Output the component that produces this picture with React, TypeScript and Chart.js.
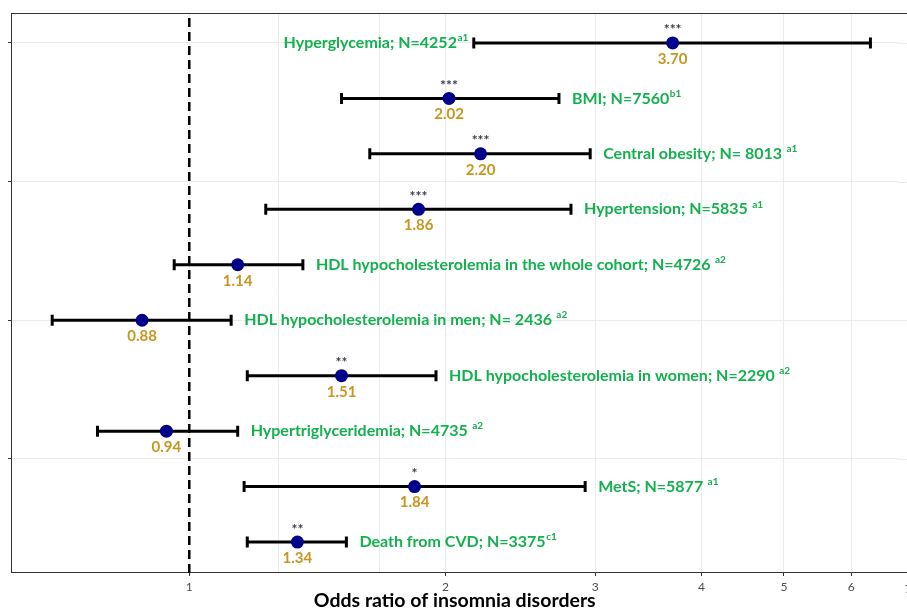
import React, { useEffect, useRef } from 'react';
import { Chart, registerables } from 'chart.js';

Chart.register(...registerables);

// ---- data ----
const categories = [
  'Hyperglycemia; N=4252',
  'BMI; N=7560',
  'Central obesity; N= 8013 ',
  'Hypertension; N=5835 ',
  'HDL hypocholesterolemia in the whole cohort; N=4726 ',
  'HDL hypocholesterolemia in men; N= 2436 ',
  'HDL hypocholesterolemia in women; N=2290 ',
  'Hypertriglyceridemia; N=4735 ',
  'MetS; N=5877 ',
  'Death from CVD; N=3375',
];
const superscripts = ['a1', 'b1', 'a1', 'a1', 'a2', 'a2', 'a2', 'a2', 'a1', 'c1'];
const oddsRatios = [3.7, 2.02, 2.2, 1.86, 1.14, 0.88, 1.51, 0.94, 1.84, 1.34];
const lowerCI = [2.16, 1.51, 1.63, 1.23, 0.96, 0.69, 1.17, 0.78, 1.16, 1.17];
const upperCI = [6.32, 2.72, 2.96, 2.81, 1.36, 1.12, 1.95, 1.14, 2.92, 1.53];
const significance = ['***', '***', '***', '***', '', '', '**', '', '*', '**'];
const labelSide = ['left', 'right', 'right', 'right', 'right', 'right', 'right', 'right', 'right', 'right'];
const xTickValues = [1, 2, 3, 4, 5, 6];
const xEdgeTick = 7;
const xMinorGrid = [1.27, 1.67];
const yBreaks = [2.5, 5, 7.5, 10];
const referenceOR = 1;
const xRange = [0.6172, 6.819];
const yRange = [0.46, 10.54];

const GREEN = '#14b04f';
const GOLD = '#c8951f';
const NAVY = '#00008b';
const FONT = 'Lato, "Open Sans", sans-serif';

const rowY = (i: number) => categories.length - i;

const annotatePlugin = {
  id: 'forestAnnotations',
  beforeDatasetsDraw(chart: any) {
    const { ctx, chartArea, scales } = chart;
    const x = scales.x;
    const y = scales.y;
    ctx.save();
    ctx.strokeStyle = '#ebebeb';
    ctx.lineWidth = 1;
    xMinorGrid.forEach((v) => {
      const px = Math.round(x.getPixelForValue(v)) + 0.5;
      ctx.beginPath();
      ctx.moveTo(px, chartArea.top);
      ctx.lineTo(px, chartArea.bottom);
      ctx.stroke();
    });
    // continue horizontal grid lines to the image edge
    yBreaks.forEach((v) => {
      const py = Math.round(y.getPixelForValue(v)) + 0.5;
      ctx.beginPath();
      ctx.moveTo(chartArea.right - 1, py);
      ctx.lineTo(chart.width, py);
      ctx.stroke();
    });
    // continue bottom axis line to the edge
    ctx.strokeStyle = '#333';
    ctx.beginPath();
    ctx.moveTo(chartArea.right - 1, Math.round(chartArea.bottom) + 0.5);
    ctx.lineTo(chart.width, Math.round(chartArea.bottom) + 0.5);
    ctx.stroke();

    const rx = x.getPixelForValue(referenceOR);
    ctx.strokeStyle = '#000';
    ctx.lineWidth = 2.5;
    ctx.setLineDash([9, 5]);
    ctx.beginPath();
    ctx.moveTo(rx, chartArea.top + 5);
    ctx.lineTo(rx, chartArea.bottom + 4);
    ctx.stroke();
    ctx.setLineDash([]);
    ctx.restore();
  },
  afterDatasetsDraw(chart: any) {
    const { ctx, chartArea, scales } = chart;
    const x = scales.x;
    const y = scales.y;
    ctx.save();
    // top border
    ctx.strokeStyle = '#333';
    ctx.lineWidth = 1;
    ctx.beginPath();
    ctx.moveTo(chartArea.left, chartArea.top + 0.5);
    ctx.lineTo(chart.width, chartArea.top + 0.5);
    ctx.stroke();

    // partially visible edge tick label (beyond the visible range)
    ctx.fillStyle = '#4d4d4d';
    ctx.font = `12px ${FONT}`;
    ctx.textAlign = 'center';
    ctx.textBaseline = 'middle';
    const x0 = x.getPixelForValue(1);
    const x6 = x.getPixelForValue(6);
    const ex = x0 + (x6 - x0) * (Math.log(xEdgeTick) / Math.log(6));
    ctx.fillText(String(xEdgeTick), ex, 589);

    categories.forEach((label, i) => {
      const py = y.getPixelForValue(rowY(i));
      const px = x.getPixelForValue(oddsRatios[i]);
      if (significance[i]) {
        ctx.fillStyle = '#3b3b48';
        ctx.font = `bold 14px ${FONT}`;
        ctx.textAlign = 'center';
        ctx.textBaseline = 'middle';
        ctx.fillText(significance[i], px, py - 13);
      }
      ctx.fillStyle = GOLD;
      ctx.font = `bold 15px ${FONT}`;
      ctx.textAlign = 'center';
      ctx.textBaseline = 'middle';
      ctx.fillText(oddsRatios[i].toFixed(2), px, py + 16);

      ctx.font = `bold 16px ${FONT}`;
      const mainW = ctx.measureText(label).width;
      ctx.font = `bold 10px ${FONT}`;
      const supW = ctx.measureText(superscripts[i]).width;
      let sx: number;
      if (labelSide[i] === 'left') {
        sx = x.getPixelForValue(lowerCI[i]) - 6 - mainW - supW;
      } else {
        sx = x.getPixelForValue(upperCI[i]) + 13;
      }
      ctx.fillStyle = GREEN;
      ctx.textAlign = 'left';
      ctx.textBaseline = 'middle';
      ctx.font = `bold 16px ${FONT}`;
      ctx.fillText(label, sx, py);
      ctx.font = `bold 10px ${FONT}`;
      ctx.fillText(superscripts[i], sx + mainW + 0.5, py - 5);
    });
    ctx.restore();
  },
};

export default function App() {
  const ref = useRef<HTMLCanvasElement | null>(null);
  useEffect(() => {
    if (!ref.current) return;
    const ciDatasets = categories.map((_, i) => ({
      type: 'line' as const,
      data: [
        { x: lowerCI[i], y: rowY(i) },
        { x: upperCI[i], y: rowY(i) },
      ],
      borderColor: '#000',
      borderWidth: 3,
      pointStyle: 'line',
      rotation: 90,
      pointRadius: 5.5,
      pointBorderWidth: 3,
      pointBorderColor: '#000',
      pointHoverRadius: 5.5,
      fill: false,
      order: 2,
    }));
    const pointDataset = {
      type: 'scatter' as const,
      data: oddsRatios.map((v, i) => ({ x: v, y: rowY(i) })),
      backgroundColor: NAVY,
      borderColor: NAVY,
      pointRadius: 6.5,
      pointBorderWidth: 0,
      order: 1,
    };
    const chart = new Chart(ref.current, {
      type: 'scatter',
      data: { datasets: [...ciDatasets, pointDataset] as any },
      options: {
        animation: false,
        responsive: false,
        maintainAspectRatio: false,
        layout: { padding: { top: 13, right: 0, left: 0, bottom: 0 } },
        plugins: { legend: { display: false }, tooltip: { enabled: false } },
        scales: {
          x: {
            type: 'logarithmic',
            bounds: 'data',
            min: xRange[0],
            max: xRange[1],
            afterBuildTicks: (scale: any) => {
              scale.ticks = xTickValues.map((v) => ({ value: v }));
            },
            afterFit: (scale: any) => {
              scale.height = 38;
              scale.paddingLeft = 0;
              scale.paddingRight = 0;
            },
            ticks: {
              color: '#4d4d4d',
              font: { family: FONT, size: 12 },
              padding: 4,
              maxRotation: 0,
              autoSkip: false,
              callback: (v: any) => String(v),
            },
            grid: {
              color: '#ebebeb',
              lineWidth: 1,
              drawTicks: true,
              tickLength: 4,
              tickColor: '#333',
            },
            border: { display: true, color: '#333', width: 1 },
            title: {
              display: true,
              text: 'Odds ratio of insomnia disorders',
              color: '#000',
              font: { family: FONT, size: 19.5, weight: 'bold', lineHeight: 1 },
              padding: { top: 0, bottom: 0 },
            },
          },
          y: {
            type: 'linear',
            min: yRange[0],
            max: yRange[1],
            afterBuildTicks: (scale: any) => {
              scale.ticks = yBreaks.map((v) => ({ value: v }));
            },
            afterFit: (scale: any) => {
              scale.width = 11;
            },
            ticks: { display: false },
            grid: {
              color: '#ebebeb',
              lineWidth: 1,
              drawTicks: true,
              tickLength: 3,
              tickColor: '#333',
            },
            border: { display: true, color: '#333', width: 1 },
          },
        },
      },
      plugins: [annotatePlugin],
    });
    return () => chart.destroy();
  }, []);
  return (
    <div style={{ position: 'absolute', left: 0, top: 0, width: 907, height: 610, background: '#fff' }}>
      <canvas ref={ref} width={907} height={610} style={{ width: 907, height: 610 }} />
    </div>
  );
}
